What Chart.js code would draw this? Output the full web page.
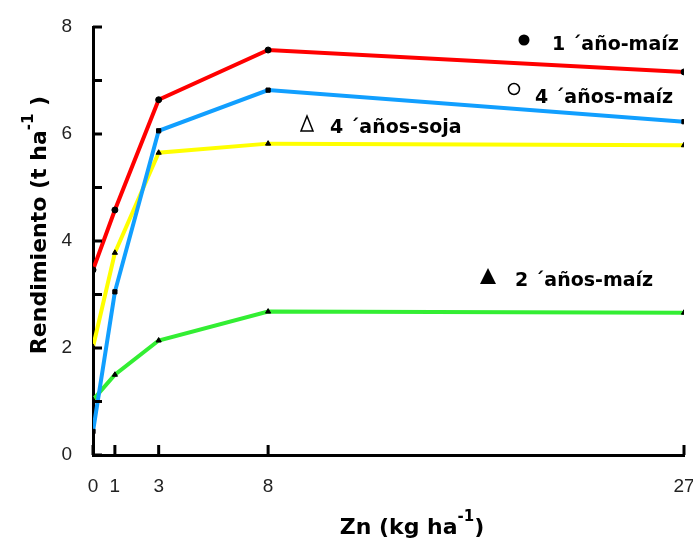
<!DOCTYPE html>
<html>
<head>
<meta charset="utf-8">
<script src="https://cdn.jsdelivr.net/npm/chart.js@4.4.1/dist/chart.umd.min.js"></script>
<style>
  html, body { margin: 0; padding: 0; background: #fff; }
  #wrap { width: 693px; height: 544px; }
</style>
</head>
<body>
<div id="wrap"><canvas id="chart"></canvas></div>
<script>
// dosis de Zn (kg/ha) y rendimientos (t/ha)
const zinc = [0, 1, 3, 8, 27];
const xTicks = [0, 1, 3, 8, 27];
const yLabels = [0, 2, 4, 6, 8];
const maiz1 = [3.46, 4.58, 6.64, 7.57, 7.16];
const maiz4 = [0.44, 3.05, 6.06, 6.82, 6.23];
const soja4 = [2.02, 3.78, 5.65, 5.82, 5.79];
const maiz2 = [1.03, 1.50, 2.14, 2.68, 2.66];

const BOLD = 'bold 19px "DejaVu Sans"';

function pts(vals) {
  return zinc.map((x, i) => ({ x: x, y: vals[i] }));
}

function serie(label, vals, color, style) {
  return {
    label: label,
    data: pts(vals),
    borderColor: color,
    borderWidth: 4,
    pointStyle: style,
    pointRadius: 3,
    pointBackgroundColor: '#000',
    pointBorderColor: '#000',
    pointBorderWidth: 1,
    tension: 0
  };
}

// texto con superindice, centrado en (x, y)
function supText(ctx, pre, sup, post, x, y, size) {
  const big = 'bold ' + size + 'px "DejaVu Sans"';
  const small = 'bold ' + Math.round(size * 0.7) + 'px "DejaVu Sans"';
  ctx.font = big;
  const w1 = ctx.measureText(pre).width;
  const w3 = ctx.measureText(post).width;
  ctx.font = small;
  const w2 = ctx.measureText(sup).width;
  let cx = x - (w1 + w2 + w3) / 2;
  ctx.textBaseline = 'middle';
  ctx.textAlign = 'left';
  ctx.font = big;
  ctx.fillText(pre, cx, y);
  ctx.font = small;
  ctx.fillText(sup, cx + w1, y - size * 0.5);
  ctx.font = big;
  ctx.fillText(post, cx + w1 + w2, y);
}

const extras = {
  id: 'extras',
  afterDraw(chart) {
    const ctx = chart.ctx;
    const xs = chart.scales.x, ys = chart.scales.y;
    const a = chart.chartArea;
    ctx.save();
    ctx.strokeStyle = '#000';
    ctx.fillStyle = '#000';
    ctx.lineWidth = 3;
    // marcas hacia dentro
    for (let v = 0; v <= 8; v++) {
      const py = ys.getPixelForValue(v);
      ctx.beginPath();
      ctx.moveTo(a.left, py);
      ctx.lineTo(a.left + 9, py);
      ctx.stroke();
    }
    xTicks.forEach(v => {
      const px = xs.getPixelForValue(v);
      ctx.beginPath();
      ctx.moveTo(px, a.bottom);
      ctx.lineTo(px, a.bottom - 10);
      ctx.stroke();
    });

    // titulos de ejes
    supText(ctx, 'Zn (kg ha', '-1', ')', 412, 528, 22);
    ctx.save();
    ctx.translate(40, 225);
    ctx.rotate(-Math.PI / 2);
    supText(ctx, 'Rendimiento (t ha', '-1', ' )', 0, 0, 22);
    ctx.restore();

    // rotulos de series
    ctx.font = BOLD;
    ctx.textAlign = 'left';
    ctx.textBaseline = 'middle';
    ctx.lineWidth = 1.5;

    ctx.beginPath();
    ctx.arc(524, 40, 5.5, 0, Math.PI * 2);
    ctx.fill();
    ctx.fillText('1 ´año-maíz', 552, 45);

    ctx.beginPath();
    ctx.arc(514, 89, 5.5, 0, Math.PI * 2);
    ctx.stroke();
    ctx.fillText('4 ´años-maíz', 535, 98);

    ctx.beginPath();
    ctx.moveTo(307, 116);
    ctx.lineTo(301, 131);
    ctx.lineTo(313, 131);
    ctx.closePath();
    ctx.stroke();
    ctx.fillText('4 ´años-soja', 330, 128);

    ctx.beginPath();
    ctx.moveTo(488, 268);
    ctx.lineTo(480, 284);
    ctx.lineTo(496, 284);
    ctx.closePath();
    ctx.fill();
    ctx.fillText('2 ´años-maíz', 515, 281);

    ctx.restore();
  }
};

new Chart(document.getElementById('chart'), {
  type: 'line',
  data: {
    datasets: [
      serie('1´año-maíz', maiz1, '#ff0000', 'circle'),
      serie('4´años-maíz', maiz4, '#119fff', 'rect'),
      serie('4´años-soja', soja4, '#ffff00', 'triangle'),
      serie('2´años-maíz', maiz2, '#33ee33', 'triangle')
    ]
  },
  options: {
    responsive: true,
    maintainAspectRatio: false,
    animation: false,
    layout: { padding: { top: 27, right: 9, left: 0, bottom: 0 } },
    plugins: { legend: { display: false }, tooltip: { enabled: false } },
    scales: {
      x: {
        type: 'linear',
        min: 0,
        max: 27,
        afterBuildTicks: s => { s.ticks = xTicks.map(v => ({ value: v })); },
        afterFit: s => { s.height = 89; s.paddingLeft = 0; s.paddingRight = 0; },
        grid: { display: false },
        border: { color: '#000', width: 3 },
        ticks: {
          autoSkip: false,
          maxRotation: 0,
          padding: 12,
          color: '#222',
          font: { family: '"Liberation Sans"', size: 19 }
        }
      },
      y: {
        min: 0,
        max: 8,
        afterFit: s => { s.width = 93; s.paddingTop = 0; s.paddingBottom = 0; },
        grid: { display: false },
        border: { color: '#000', width: 3 },
        ticks: {
          stepSize: 1,
          padding: 13,
          color: '#222',
          font: { family: '"Liberation Sans"', size: 19 },
          callback: v => yLabels.includes(v) ? v : ''
        }
      }
    }
  },
  plugins: [extras]
});
</script>
</body>
</html>
